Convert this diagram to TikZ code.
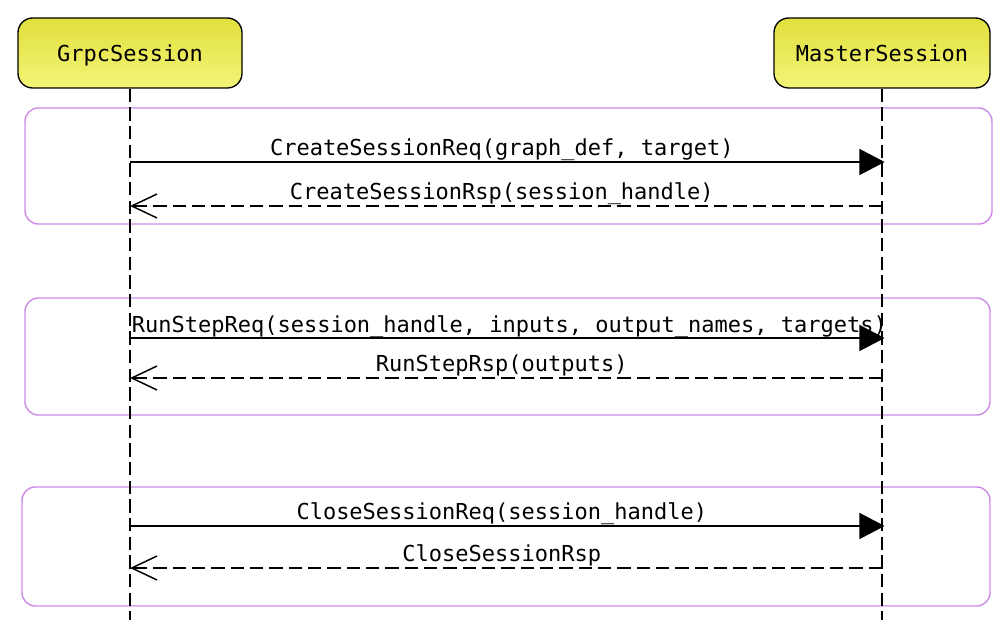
\documentclass[tikz,border=0pt]{standalone}
\usepackage{fontspec}
\newfontfamily\seqmono{DejaVu Sans Mono}
\usetikzlibrary{arrows.meta}
\definecolor{headtop}{RGB}{224,224,60}
\definecolor{headbot}{RGB}{244,244,120}
\definecolor{grpline}{RGB}{206,140,232}
\tikzset{
  actor/.style={draw=black, line width=1pt, rounded corners=11pt,
    top color=headtop, bottom color=headbot, minimum height=52.5pt,
    inner sep=0pt, text height=12.5pt, text depth=0pt,
    font=\seqmono\fontsize{16.5pt}{18pt}\selectfont},
  lifeline/.style={line width=1.1pt, dash pattern=on 10pt off 4pt},
  grpbox/.style={draw=grpline, line width=1.1pt, rounded corners=10pt},
  reqmsg/.style={line width=1.4pt, shorten >=-2pt, -{Triangle[length=19pt,width=19.5pt]}},
  rspmsg/.style={line width=1.4pt, dash pattern=on 10pt off 4.5pt,
    -{Straight Barb[length=19pt,width=18pt,line width=1.1pt]}},
  msglabel/.style={anchor=base, inner sep=0pt, xshift=2.5pt,
    font=\seqmono\fontsize{16.5pt}{18pt}\selectfont}
}
\begin{document}
\begin{tikzpicture}[x=0.75pt, y=-0.75pt]
\useasboundingbox (0,0) rectangle (1008,620);
% group boxes
\draw[grpbox] (25,108) rectangle (992,224);
\draw[grpbox] (25,298) rectangle (990,415);
\draw[grpbox] (22,487) rectangle (990,606);
% actors
\node[actor, minimum width=168pt] (g) at (130,53) {GrpcSession};
\node[actor, minimum width=162pt] (m) at (882,53) {MasterSession};
\coordinate (gend) at (130,620);
\coordinate (mend) at (882,620);
\draw[lifeline] (g.south) -- (gend);
\draw[lifeline] (m.south) -- (mend);
% message anchor points
\foreach \n/\yy in {a/162, b/206, c/338, d/378, e/526, f/568} {
  \coordinate (g\n) at (130,\yy);
  \coordinate (m\n) at (882,\yy);
}
\draw[reqmsg] (ga) -- (ma) node[msglabel, pos=0.49, yshift=4.5pt] (la) {CreateSessionReq(graph\_def, target)};
\draw[rspmsg] (mb) -- (gb) node[msglabel, pos=0.51, yshift=5pt] (lb) {CreateSessionRsp(session\_handle)};
\draw[reqmsg] (gc) -- (mc) node[msglabel, pos=0.5, yshift=4pt] (lc) {RunStepReq(session\_handle, inputs, output\_names, targets)};
\draw[rspmsg] (md) -- (gd) node[msglabel, pos=0.51, yshift=4.5pt] (ld) {RunStepRsp(outputs)};
\draw[reqmsg] (ge) -- (me) node[msglabel, pos=0.49, yshift=4.5pt] (le) {CloseSessionReq(session\_handle)};
\draw[rspmsg] (mf) -- (gf) node[msglabel, pos=0.51, yshift=5pt] (lf) {CloseSessionRsp};
\end{tikzpicture}
\end{document}
